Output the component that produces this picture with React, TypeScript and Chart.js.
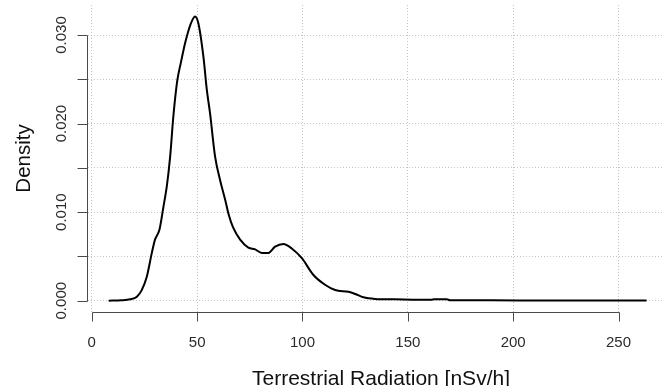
import React, { useEffect, useRef } from "react";
import { Chart, registerables } from "chart.js";

Chart.register(...registerables);

// Kernel density curve (x: nSv/h, y: density)
const radiationValues = [
  8.0, 14.0, 18.2, 21.4, 23.7, 26.1, 28.5, 30.0, 32.1, 34.0, 35.6, 37.2, 38.7,
  40.6, 42.2, 44.3, 46.7, 49.0, 50.6, 53.0, 54.6, 56.1, 58.5, 60.9, 63.3, 65.0,
  67.0, 70.4, 74.3, 77.5, 80.7, 83.8, 87.0, 90.9, 94.9, 99.7, 105.2, 110.7,
  115.5, 121.8, 125.0, 128.9, 134.5, 143.9, 155.0, 161.0, 162.5, 168.5, 170.0,
  190.0, 220.0, 263.3,
];
const densityValues = [
  0.0, 0.00005, 0.00016, 0.00045, 0.0012, 0.0027, 0.0054, 0.0069, 0.008,
  0.0106, 0.0129, 0.0163, 0.0208, 0.0249, 0.0268, 0.0291, 0.0311, 0.0321,
  0.0313, 0.0275, 0.0238, 0.0212, 0.0163, 0.0136, 0.0114, 0.0097, 0.0083,
  0.0069, 0.006, 0.0058, 0.0054, 0.0054, 0.0061, 0.0064, 0.0059, 0.0048,
  0.0029, 0.0018, 0.0012, 0.001, 0.00076, 0.00038, 0.0002, 0.00015, 0.0001,
  0.0001, 0.00016, 0.00016, 0.00006, 0.00004, 0.00003, 0.00002,
];

const xTickValues = [0, 50, 100, 150, 200, 250];
const yTickValues = [0, 0.005, 0.01, 0.015, 0.02, 0.025, 0.03];
const yLabelValues = [0, 0.01, 0.02, 0.03];

const xTitle = "Terrestrial Radiation [nSv/h]";
const yTitle = "Density";

const FONT = '"Liberation Sans", Arial, Helvetica, sans-serif';
const AXIS_COLOR = "#4a4a4a";
const LABEL_COLOR = "#2b2b2b";
const GRID_COLOR = "#c4c4c4";

const rAxesPlugin = {
  id: "rAxes",
  afterDraw(chart: any) {
    const { ctx, chartArea } = chart;
    const x = chart.scales.x;
    const y = chart.scales.y;
    ctx.save();
    ctx.strokeStyle = AXIS_COLOR;
    ctx.lineWidth = 1;

    // Y axis (R style: spans first to last tick)
    const ax = Math.round(chartArea.left) - 0.5;
    const yTop = Math.round(y.getPixelForValue(yTickValues[yTickValues.length - 1])) + 0.5;
    const yBot = Math.round(y.getPixelForValue(yTickValues[0])) + 0.5;
    ctx.beginPath();
    ctx.moveTo(ax, yTop);
    ctx.lineTo(ax, yBot);
    for (const t of yTickValues) {
      const py = Math.round(y.getPixelForValue(t)) + 0.5;
      ctx.moveTo(ax, py);
      ctx.lineTo(ax - 10, py);
    }
    ctx.stroke();

    // X axis
    const ay = Math.round(chartArea.bottom) + 0.5;
    const xL = Math.round(x.getPixelForValue(xTickValues[0])) + 0.5;
    const xR = Math.round(x.getPixelForValue(xTickValues[xTickValues.length - 1])) + 0.5;
    ctx.beginPath();
    ctx.moveTo(xL, ay);
    ctx.lineTo(xR, ay);
    for (const t of xTickValues) {
      const px = Math.round(x.getPixelForValue(t)) + 0.5;
      ctx.moveTo(px, ay);
      ctx.lineTo(px, ay + 9);
    }
    ctx.stroke();

    // Tick labels
    ctx.fillStyle = LABEL_COLOR;
    ctx.font = `15px ${FONT}`;
    ctx.textAlign = "center";
    ctx.textBaseline = "alphabetic";
    for (const t of xTickValues) {
      ctx.fillText(String(t), x.getPixelForValue(t), 347);
    }
    for (const t of yLabelValues) {
      ctx.save();
      ctx.translate(66, y.getPixelForValue(t));
      ctx.rotate(-Math.PI / 2);
      ctx.fillText(t.toFixed(3), 0, 0);
      ctx.restore();
    }

    // Axis titles
    ctx.fillStyle = "#111";
    ctx.font = `21px ${FONT}`;
    ctx.fillText(xTitle, 381, 384.5);
    ctx.save();
    ctx.translate(30, (chartArea.top + chartArea.bottom) / 2);
    ctx.rotate(-Math.PI / 2);
    ctx.font = `20.5px ${FONT}`;
    ctx.fillText(yTitle, 0, 0);
    ctx.restore();

    ctx.restore();
  },
};

export default function App() {
  const canvasRef = useRef<HTMLCanvasElement | null>(null);

  useEffect(() => {
    const canvas = canvasRef.current;
    if (!canvas) return;
    const points = radiationValues.map((v, i) => ({ x: v, y: densityValues[i] }));
    const chart = new Chart(canvas, {
      type: "line",
      data: {
        datasets: [
          {
            data: points,
            borderColor: "#000",
            borderWidth: 2,
            pointRadius: 0,
            fill: false,
            cubicInterpolationMode: "monotone",
          },
        ],
      },
      options: {
        animation: false,
        responsive: false,
        devicePixelRatio: 1,
        layout: { padding: { left: 88, top: 5, right: 0, bottom: 74 } },
        plugins: {
          legend: { display: false },
          tooltip: { enabled: false },
          title: { display: false },
        },
        scales: {
          x: {
            type: "linear",
            min: -1.8,
            max: 271.1,
            afterBuildTicks: (s: any) => {
              s.ticks = xTickValues.map((v) => ({ value: v }));
            },
            ticks: { display: false },
            grid: { color: GRID_COLOR, lineWidth: 1, drawTicks: false },
            border: { display: false, dash: [1, 2] },
          },
          y: {
            type: "linear",
            min: -0.001276,
            max: 0.03339,
            afterBuildTicks: (s: any) => {
              s.ticks = yTickValues.map((v) => ({ value: v }));
            },
            ticks: { display: false },
            grid: { color: GRID_COLOR, lineWidth: 1, drawTicks: false },
            border: { display: false, dash: [1, 2] },
          },
        },
      },
      plugins: [rAxesPlugin],
    } as any);
    return () => chart.destroy();
  }, []);

  return (
    <div style={{ position: "absolute", left: 0, top: 0, width: 663, height: 386, background: "#fff" }}>
      <canvas ref={canvasRef} width={663} height={386} style={{ display: "block" }} />
    </div>
  );
}
